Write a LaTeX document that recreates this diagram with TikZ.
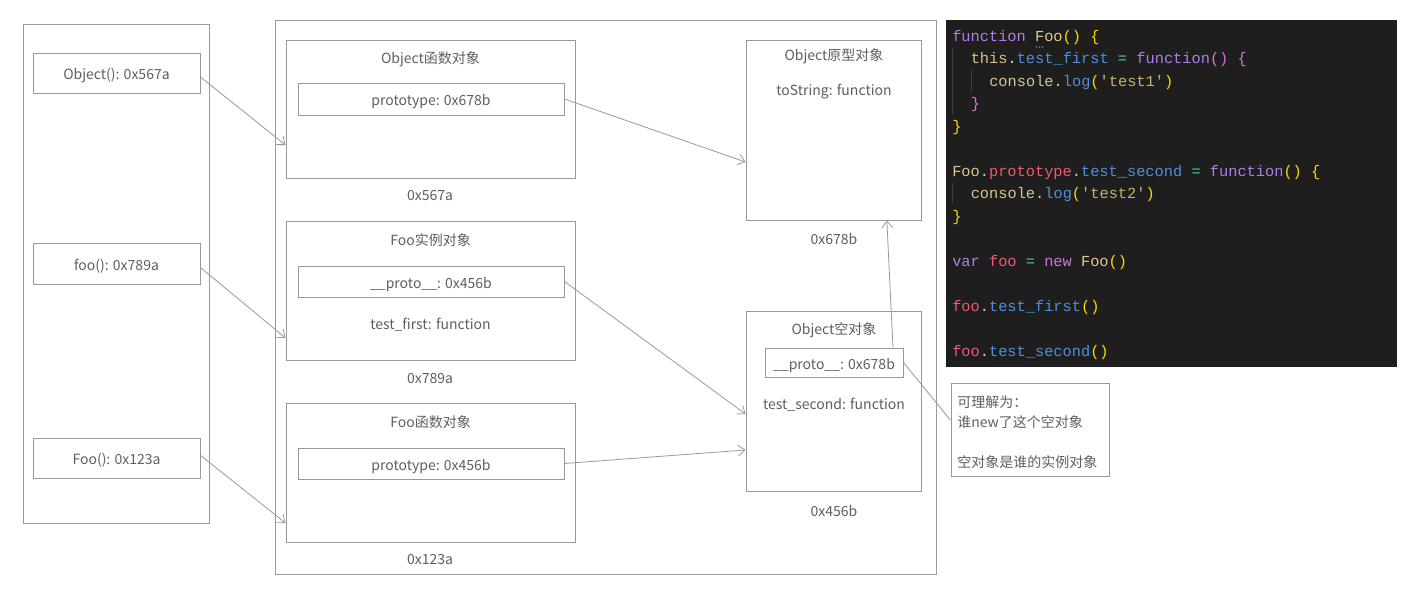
\documentclass[tikz,border=0pt]{standalone}
\usepackage{fontspec}
\setmainfont{Noto Sans CJK SC}
\setmonofont{Liberation Mono}
\usetikzlibrary{arrows.meta}
\definecolor{ln}{HTML}{999999}
\definecolor{tx}{HTML}{5E5E5E}
\definecolor{codebg}{HTML}{1E1E1E}
\definecolor{guide}{HTML}{404040}
\definecolor{cfn}{HTML}{B07EE8}
\definecolor{cnew}{HTML}{C678DD}
\definecolor{cFoo}{HTML}{E5C890}
\definecolor{cthis}{HTML}{DCC08A}
\definecolor{cprop}{HTML}{4F8FDD}
\definecolor{cop}{HTML}{4EC9B0}
\definecolor{cyel}{HTML}{FFD700}
\definecolor{cmag}{HTML}{DA70D6}
\definecolor{ccon}{HTML}{D8C690}
\definecolor{cstr}{HTML}{C4B36A}
\definecolor{cred}{HTML}{EF5870}
\definecolor{cdot}{HTML}{CCCCCC}
\begin{document}
\begin{tikzpicture}[x=0.75pt,y=-0.75pt,
  box/.style 2 args={draw=ln, line width=0.75pt, minimum width=#1*0.75pt, minimum height=#2*0.75pt, inner sep=0pt, text=tx, text height=10.5pt, text depth=0.5pt, font=\fontsize{10.5}{13}\selectfont},
  lbl/.style={text=tx, inner sep=0pt, text height=10.5pt, text depth=0.5pt, font=\fontsize{10.5}{13}\selectfont},
  arr/.style={draw=ln, line width=0.6pt, -{Straight Barb[length=5pt,width=8pt]}},
  code/.style={anchor=base west, inner sep=0pt, text=cdot, font=\ttfamily\fontsize{11.5}{14}\selectfont},
]
\useasboundingbox (0,0) rectangle (1404,590);
% stack column
\node[box={186}{499}] (stack) at (116,273.5) {};
\node[box={167}{40}] (objv) at (116.5,73) {Object(): 0x567a};
\node[box={167}{41}] (foov) at (116.5,263.5) {foo(): 0x789a};
\node[box={167}{40}] (Foov) at (116.5,458) {Foo(): 0x123a};
% heap
\node[box={661}{554}] (heap) at (605.5,297) {};
\node[box={289}{138}] (objfn) at (430.5,109) {};
\node[lbl] (objfnt) at (430.5,57) {Object函数对象};
\node[box={266}{32}] (objproto) at (431,99) {prototype: 0x678b};
\node[lbl] (a1) at (430,194) {0x567a};
\node[box={289}{139}] (fooinst) at (430.5,290.5) {};
\node[lbl] (fooinstt) at (430.5,239) {Foo实例对象};
\node[box={266}{31}] (fooproto) at (431,281.5) {\_\_proto\_\_: 0x456b};
\node[lbl] (tf) at (430.5,323) {test\_first: function};
\node[lbl] (a2) at (430,377) {0x789a};
\node[box={289}{139}] (foofn) at (430.5,472.5) {};
\node[lbl] (foofnt) at (430.5,421) {Foo函数对象};
\node[box={266}{31}] (foofnproto) at (431,463.5) {prototype: 0x456b};
\node[lbl] (a3) at (430,558) {0x123a};
\node[box={175}{180}] (objp) at (833.5,130) {};
\node[lbl] (objpt) at (834,54) {Object原型对象};
\node[lbl] (ts) at (834,89) {toString: function};
\node[lbl] (a4) at (834,238) {0x678b};
\node[box={175}{180}] (empty) at (833.5,401) {};
\node[lbl] (emptyt) at (834,328) {Object空对象};
\node[box={138}{29}] (emptyproto) at (834,362.5) {\_\_proto\_\_: 0x678b};
\node[lbl] (tsec) at (834,403) {test\_second: function};
\node[lbl] (a5) at (834,510) {0x456b};
% note
\node[box={158}{93}] (note) at (1030,429.5) {};
\node[text=tx, inner sep=0pt, anchor=north west, align=left, font=\fontsize{10.5}{15}\selectfont] (notet) at (957,395) {可理解为：\\谁new了这个空对象\\[15pt]空对象是谁的实例对象};
% arrows
\draw[arr] ([yshift=-3pt]objv.east) -- ([yshift=-27pt]objfn.west);
\draw[arr] ([yshift=-3pt]foov.east) -- ([yshift=-35.6pt]fooinst.west);
\draw[arr] ([yshift=2pt]Foov.east) -- ([yshift=-37.9pt]foofn.west);
\draw[arr] (objproto.east) -- ([yshift=-24pt]objp.west);
\draw[arr] (fooproto.east) -- ([yshift=-9.75pt]empty.west);
\draw[arr] (foofnproto.east) -- ([yshift=-36.75pt]empty.west);
\draw[arr] ([xshift=44.25pt]emptyproto.north) -- ([xshift=40pt]objp.south);
\draw[draw=ln, line width=0.6pt] (emptyproto.east) -- ([yshift=7pt]note.west);
% code block
\node[fill=codebg, minimum width=451*0.75pt, minimum height=347*0.75pt, inner sep=0pt] (codebox) at (1171.5,193.5) {};
\draw[guide, line width=0.75pt] (952,48) -- (952,115);
\draw[guide, line width=0.75pt] (971,70) -- (971,92);
\draw[guide, line width=0.75pt] (952,183) -- (952,203);
\node[code] (c1) at (952,41) {\textcolor{cfn}{function} \textcolor{cFoo}{Foo}\textcolor{cyel}{() \{}};
\fill[cdot!60!black] (1036.5,47) circle (0.8) (1039.5,47) circle (0.8) (1042.5,47) circle (0.8);
\node[code] (c2) at (970.5,63.5) {\textcolor{cthis}{this}.\textcolor{cprop}{test\_first} \textcolor{cop}{=} \textcolor{cfn}{function}\textcolor{cmag}{() \{}};
\node[code] (c3) at (989,86) {\textcolor{ccon}{console}.\textcolor{cprop}{log}\textcolor{cyel}{(}\textcolor{cstr}{'test1'}\textcolor{cyel}{)}};
\node[code] (c4) at (970.5,108.5) {\textcolor{cmag}{\}}};
\node[code] (c5) at (952,131) {\textcolor{cyel}{\}}};
\node[code] (c7) at (952,176) {\textcolor{ccon}{Foo}.\textcolor{cred}{prototype}.\textcolor{cprop}{test\_second} \textcolor{cop}{=} \textcolor{cfn}{function}\textcolor{cyel}{() \{}};
\node[code] (c8) at (970.5,198.5) {\textcolor{ccon}{console}.\textcolor{cprop}{log}\textcolor{cyel}{(}\textcolor{cstr}{'test2'}\textcolor{cyel}{)}};
\node[code] (c9) at (952,221) {\textcolor{cyel}{\}}};
\node[code] (c11) at (952,266) {\textcolor{cfn}{var} \textcolor{cred}{foo} \textcolor{cop}{=} \textcolor{cnew}{new} \textcolor{cFoo}{Foo}\textcolor{cyel}{()}};
\node[code] (c13) at (952,311) {\textcolor{cred}{foo}.\textcolor{cprop}{test\_first}\textcolor{cyel}{()}};
\node[code] (c15) at (952,356) {\textcolor{cred}{foo}.\textcolor{cprop}{test\_second}\textcolor{cyel}{()}};
\end{tikzpicture}
\end{document}
